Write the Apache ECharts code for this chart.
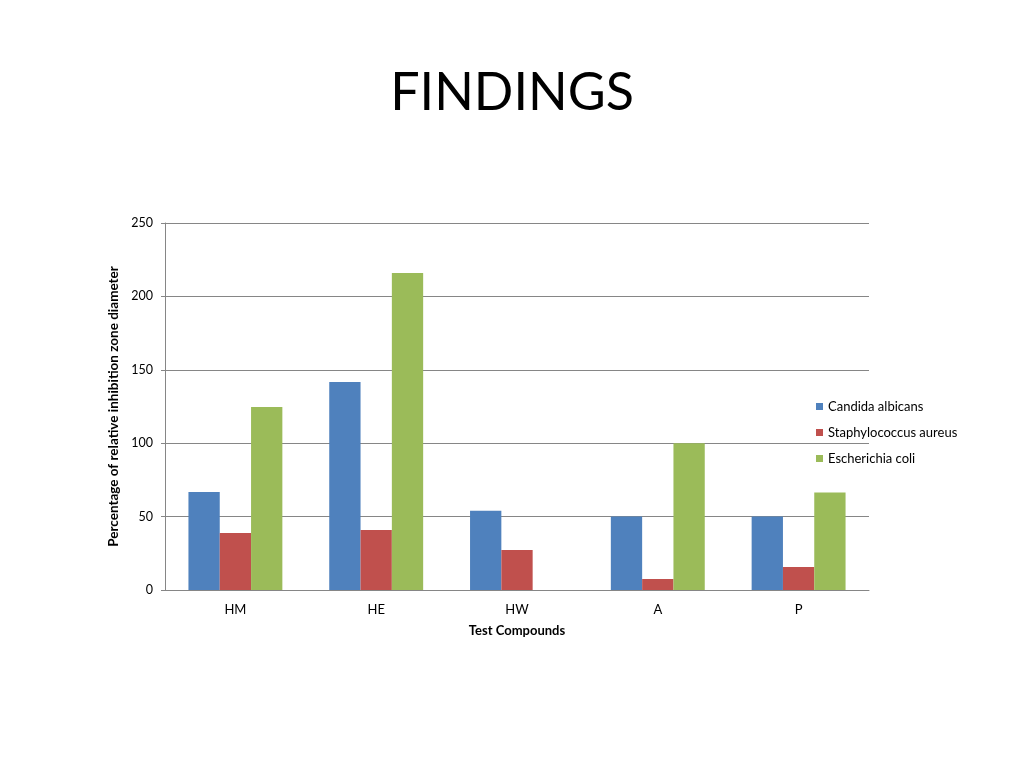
<!DOCTYPE html>
<html><head><meta charset="utf-8">
<script src="https://cdn.jsdelivr.net/npm/echarts@6/dist/echarts.min.js"></script>
<style>html,body{margin:0;padding:0;background:#fff}#c{width:1024px;height:768px}</style>
</head><body><div id="c"></div>
<script>
const categories = ['HM', 'HE', 'HW', 'A', 'P'];
const candida = [66.7, 141.7, 54, 50, 50];
const staph = [38.8, 40.9, 27.2, 7.5, 15.6];
const ecoli = [124.7, 215.9, 0, 100, 66.5];
const seriesNames = ['Candida albicans', 'Staphylococcus aureus', 'Escherichia coli'];
const colors = ['#4F81BD', '#C0504D', '#9BBB59'];

const chart = echarts.init(document.getElementById('c'));
const font = 'Lato, "Open Sans", sans-serif';
chart.setOption({
  animation: false,
  title: {
    text: 'FINDINGS', left: 'center', top: 62,
    textStyle: { fontFamily: font, fontSize: 52, fontWeight: 'normal', color: '#000' }
  },
  legend: {
    orient: 'vertical', left: 811, top: 395, itemWidth: 7, itemHeight: 7, itemGap: 13,
    icon: 'rect',
    textStyle: { fontFamily: font, fontSize: 13, color: '#000' },
    data: seriesNames
  },
  grid: { left: 165, right: 155, top: 223, bottom: 178, containLabel: false },
  xAxis: {
    type: 'category', data: categories,
    name: 'Test Compounds', nameLocation: 'middle', nameGap: 34,
    nameTextStyle: { fontFamily: font, fontSize: 13, fontWeight: 'bold', color: '#000' },
    axisLine: { lineStyle: { color: '#868686' } },
    axisTick: { show: false },
    axisLabel: { fontFamily: font, fontSize: 13, color: '#000', margin: 13 }
  },
  yAxis: {
    type: 'value', min: 0, max: 250, interval: 50,
    name: 'Percentage of relative inhibition zone diameter', nameLocation: 'middle', nameGap: 33,
    nameTextStyle: { fontFamily: font, fontSize: 13.5, fontWeight: 'bold', color: '#000' },
    axisLine: { show: true, lineStyle: { color: '#868686' } },
    axisTick: { show: true, length: 4, lineStyle: { color: '#868686' } },
    axisLabel: { fontFamily: font, fontSize: 12.5, color: '#000', margin: 12 },
    splitLine: { lineStyle: { color: '#868686' } }
  },
  series: [
    { name: seriesNames[0], type: 'bar', data: candida, itemStyle: { color: colors[0] }, barGap: '0%', barCategoryGap: '33.3%' },
    { name: seriesNames[1], type: 'bar', data: staph, itemStyle: { color: colors[1] }, barGap: '0%', barCategoryGap: '33.3%' },
    { name: seriesNames[2], type: 'bar', data: ecoli, itemStyle: { color: colors[2] }, barGap: '0%', barCategoryGap: '33.3%' }
  ]
});
</script></body></html>
